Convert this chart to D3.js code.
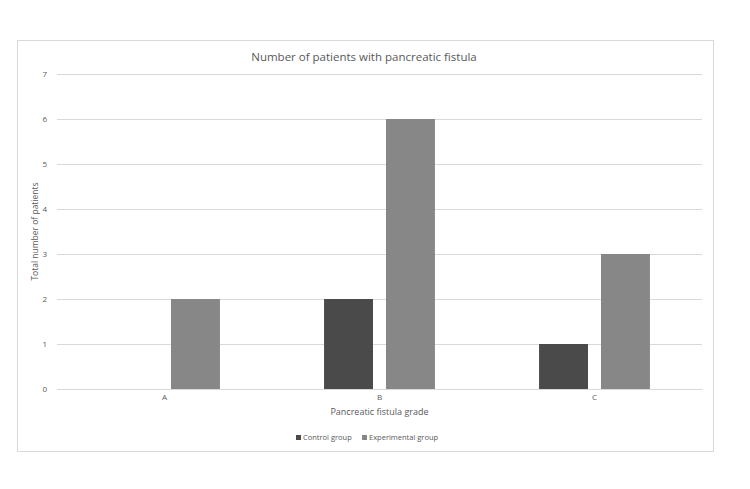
<!DOCTYPE html>
<html>
<head>
<meta charset="utf-8">
<script src="https://cdn.jsdelivr.net/npm/d3@7"></script>
<style>
  body { margin: 0; background: #fff; }
  text { font-family: "Open Sans", "Liberation Sans", sans-serif; fill: #595959; }
</style>
</head>
<body>
<div id="chart"></div>
<script>
var grades = ["A", "B", "C"];
var seriesNames = ["Control group", "Experimental group"];
var controlValues = [0, 2, 1];
var experimentalValues = [2, 6, 3];
var yTicks = [0, 1, 2, 3, 4, 5, 6, 7];
var colors = ["#4a4a4a", "#878787"];

var width = 750, height = 489;
var svg = d3.select("#chart").append("svg")
  .attr("width", width)
  .attr("height", height);

// outer chart frame
svg.append("rect")
  .attr("x", 17.5).attr("y", 40.5)
  .attr("width", 696).attr("height", 411)
  .attr("fill", "#fff")
  .attr("stroke", "#d9d9d9");

var plotLeft = 57, plotRight = 702, plotTop = 74, plotBottom = 389;

var x = d3.scaleBand().domain(grades).range([plotLeft, plotRight]);
var xInner = d3.scaleBand().domain(seriesNames).range([0, x.bandwidth()])
  .paddingInner(0.21).paddingOuter(0.84);
var y = d3.scaleLinear().domain([0, 7]).range([plotBottom, plotTop]);

// gridlines
svg.append("g").selectAll("line")
  .data(yTicks)
  .enter().append("line")
  .attr("x1", plotLeft).attr("x2", plotRight)
  .attr("y1", d => Math.round(y(d)) + 0.5)
  .attr("y2", d => Math.round(y(d)) + 0.5)
  .attr("stroke", "#d9d9d9");

var yAxis = svg.append("g")
  .attr("transform", "translate(" + plotLeft + ",0)")
  .call(d3.axisLeft(y).tickValues(yTicks).tickFormat(d3.format("d")).tickSize(0).tickPadding(10));
yAxis.select(".domain").remove();
yAxis.selectAll("text").style("font-size", "8px").attr("fill", "#595959")
  .style("font-family", "'Open Sans', sans-serif");

var series = [controlValues, experimentalValues];
var groups = svg.append("g").selectAll("g")
  .data(grades)
  .enter().append("g")
  .attr("transform", d => "translate(" + x(d) + ",0)");

groups.selectAll("rect")
  .data((d, i) => seriesNames.map((s, j) => ({ s: s, v: series[j][i], j: j })))
  .enter().append("rect")
  .attr("x", d => xInner(d.s))
  .attr("width", xInner.bandwidth())
  .attr("y", d => y(d.v))
  .attr("height", d => y(0) - y(d.v))
  .attr("fill", d => colors[d.j]);

var xAxis = svg.append("g")
  .attr("transform", "translate(0," + plotBottom + ")")
  .call(d3.axisBottom(x).tickSize(0).tickPadding(5));
xAxis.select(".domain").attr("stroke", "#d9d9d9");
xAxis.selectAll("text").style("font-size", "8px").attr("fill", "#595959")
  .style("font-family", "'Open Sans', sans-serif");

svg.append("text")
  .attr("x", 364).attr("y", 61)
  .attr("text-anchor", "middle")
  .style("font-size", "11.5px")
  .text("Number of patients with pancreatic fistula");

svg.append("text")
  .attr("x", (plotLeft + plotRight) / 2).attr("y", 415)
  .attr("text-anchor", "middle")
  .style("font-size", "9px")
  .text("Pancreatic fistula grade");

svg.append("text")
  .attr("transform", "translate(38," + ((plotTop + plotBottom) / 2) + ") rotate(-90)")
  .attr("text-anchor", "middle")
  .style("font-size", "8.5px")
  .text("Total number of patients");

// legend
var legend = svg.append("g").attr("transform", "translate(296,440)");
var legendX = [0, 66];
seriesNames.forEach(function (name, i) {
  var item = legend.append("g").attr("transform", "translate(" + legendX[i] + ",0)");
  item.append("rect").attr("x", 0).attr("y", -5).attr("width", 5).attr("height", 5).attr("fill", colors[i]);
  item.append("text").attr("x", 7).attr("y", 0).style("font-size", "7.5px").text(name);
});
</script>
</body>
</html>
